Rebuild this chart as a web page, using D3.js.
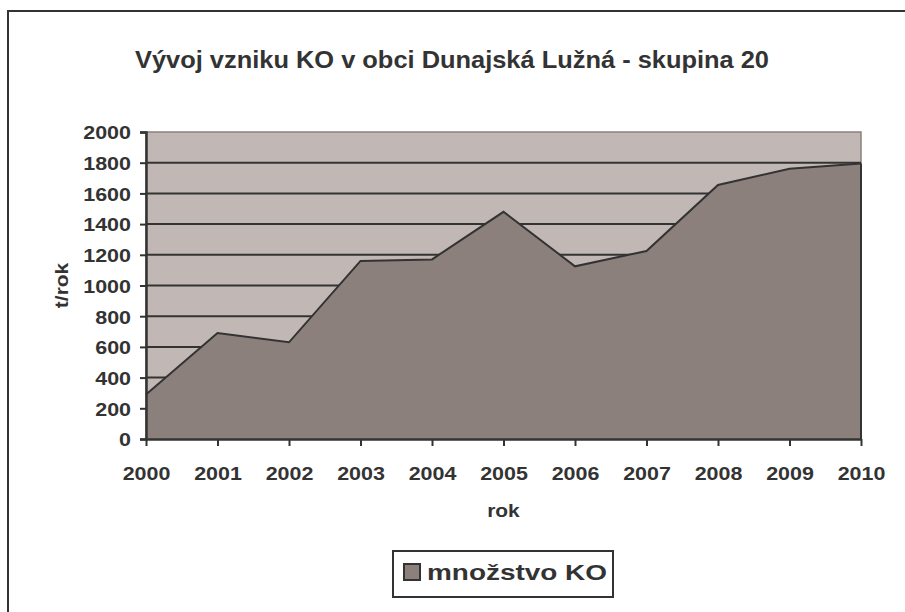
<!DOCTYPE html>
<html>
<head>
<meta charset="utf-8">
<script src="https://cdn.jsdelivr.net/npm/d3@7"></script>
<style>
  body { margin: 0; background: #fff; }
  text { font-family: "Liberation Sans", Arial, sans-serif; font-weight: bold; fill: #333; }
</style>
</head>
<body>
<div id="chart"></div>
<script>
// values
var years = ["2000", "2001", "2002", "2003", "2004", "2005", "2006", "2007", "2008", "2009", "2010"];
var amounts = [290, 690, 630, 1160, 1170, 1480, 1125, 1225, 1655, 1760, 1795];
var yTicks = [0, 200, 400, 600, 800, 1000, 1200, 1400, 1600, 1800, 2000];

var width = 905, height = 612;
var plot = { left: 146, top: 132, right: 861, bottom: 439 };

// the original text is a bit wider than Liberation Sans, so stretch it sideways
function stretch(sel, factor) {
  sel.each(function () {
    var w = this.getComputedTextLength();
    d3.select(this).attr("textLength", w * factor).attr("lengthAdjust", "spacingAndGlyphs");
  });
}

var svg = d3.select("#chart").append("svg")
  .attr("width", width)
  .attr("height", height);

// outer chart frame
svg.append("rect")
  .attr("x", 8).attr("y", 11)
  .attr("width", 910).attr("height", 620)
  .attr("fill", "#fff")
  .attr("stroke", "#333")
  .attr("stroke-width", 2);

var title = svg.append("text")
  .attr("x", 452).attr("y", 68)
  .attr("text-anchor", "middle")
  .attr("font-size", 23)
  .text("Vývoj vzniku KO v obci Dunajská Lužná - skupina 20");
title.attr("textLength", 634).attr("lengthAdjust", "spacingAndGlyphs");

var x = d3.scalePoint().domain(years).range([plot.left, plot.right]);
var y = d3.scaleLinear().domain([0, 2000]).range([plot.bottom, plot.top]);

// plot background
svg.append("rect")
  .attr("x", plot.left).attr("y", plot.top)
  .attr("width", plot.right - plot.left)
  .attr("height", plot.bottom - plot.top)
  .attr("fill", "#c1b8b5")
  .attr("stroke", "#8c807c")
  .attr("stroke-width", 1.5);

// gridlines
svg.append("g")
  .selectAll("line")
  .data(yTicks.filter(function (d) { return d > 0 && d < 2000; }))
  .enter().append("line")
  .attr("x1", plot.left).attr("x2", plot.right)
  .attr("y1", function (d) { return y(d); })
  .attr("y2", function (d) { return y(d); })
  .attr("stroke", "#333")
  .attr("stroke-width", 2);

var data = years.map(function (yr, i) { return { year: yr, value: amounts[i] }; });

var area = d3.area()
  .x(function (d) { return x(d.year); })
  .y0(plot.bottom)
  .y1(function (d) { return y(d.value); });

svg.append("path")
  .datum(data)
  .attr("d", area)
  .attr("fill", "#8c807c");

var line = d3.line()
  .x(function (d) { return x(d.year); })
  .y(function (d) { return y(d.value); });

svg.append("path")
  .datum(data)
  .attr("d", line)
  .attr("fill", "none")
  .attr("stroke", "#333")
  .attr("stroke-width", 2)
  .attr("stroke-linejoin", "miter");

// right edge of area
svg.append("line")
  .attr("x1", plot.right).attr("x2", plot.right)
  .attr("y1", y(amounts[amounts.length - 1])).attr("y2", plot.bottom)
  .attr("stroke", "#333").attr("stroke-width", 2);

// axes
var yAxis = d3.axisLeft(y).tickValues(yTicks).tickFormat(d3.format("d")).tickSize(6).tickPadding(9);
var gy = svg.append("g")
  .attr("transform", "translate(" + plot.left + ",0)")
  .call(yAxis);
gy.attr("font-size", null).attr("font-family", null);
gy.select(".domain").attr("stroke", "#333").attr("stroke-width", 2.5);
gy.selectAll(".tick line").attr("stroke", "#333").attr("stroke-width", 2);
gy.selectAll(".tick text").attr("font-size", 19).attr("fill", "#333").attr("dy", "0.36em");
stretch(gy.selectAll(".tick text"), 1.13);

var xAxis = d3.axisBottom(x).tickSize(7).tickSizeOuter(0);
var gx = svg.append("g")
  .attr("transform", "translate(0," + plot.bottom + ")")
  .call(xAxis);
gx.attr("font-size", null).attr("font-family", null);
gx.select(".domain").attr("stroke", "#333").attr("stroke-width", 2.5);
gx.selectAll(".tick line").attr("stroke", "#333").attr("stroke-width", 2);
gx.selectAll(".tick text").attr("font-size", 19).attr("fill", "#333")
  .attr("y", 41).attr("dy", 0);
stretch(gx.selectAll(".tick text"), 1.13);

// axis titles
var xTitle = svg.append("text")
  .attr("x", (plot.left + plot.right) / 2).attr("y", 517)
  .attr("text-anchor", "middle")
  .attr("font-size", 19)
  .text("rok");
stretch(xTitle, 1.1);

var yTitle = svg.append("text")
  .attr("transform", "translate(68," + (plot.top + plot.bottom) / 2 + ") rotate(-90)")
  .attr("text-anchor", "middle")
  .attr("font-size", 19)
  .text("t/rok");
stretch(yTitle, 1.1);

// legend
var legend = svg.append("g");
legend.append("rect")
  .attr("x", 393).attr("y", 551)
  .attr("width", 220).attr("height", 46)
  .attr("fill", "#fff")
  .attr("stroke", "#333")
  .attr("stroke-width", 2);
legend.append("rect")
  .attr("x", 404).attr("y", 564)
  .attr("width", 16).attr("height", 16)
  .attr("fill", "#8c807c")
  .attr("stroke", "#333")
  .attr("stroke-width", 2);
legend.append("text")
  .attr("x", 427).attr("y", 580)
  .attr("font-size", 22)
  .attr("textLength", 180).attr("lengthAdjust", "spacingAndGlyphs")
  .text("množstvo KO");
</script>
</body>
</html>
